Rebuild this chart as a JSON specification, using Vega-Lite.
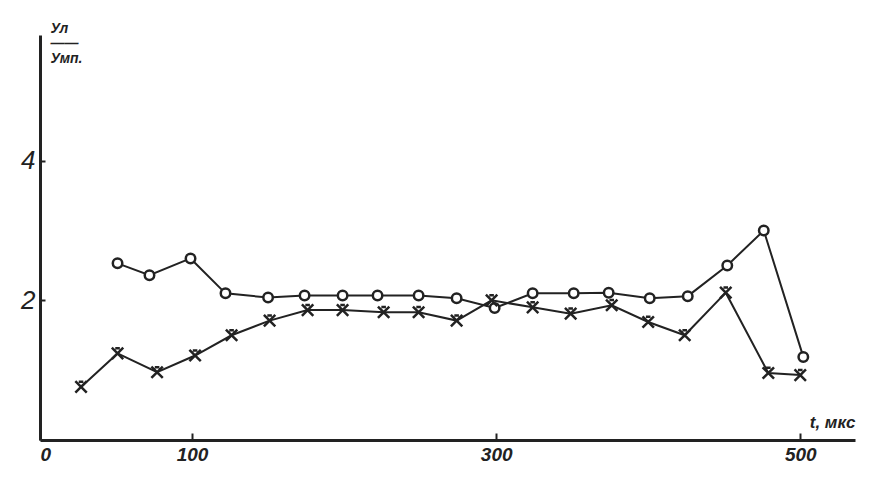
{
  "$schema": "https://vega.github.io/schema/vega-lite/v6.json",
  "width": 815,
  "height": 405,
  "autosize": {"type": "none"},
  "padding": {"left": 40, "top": 35, "right": 26, "bottom": 38},
  "background": "white",
  "config": {
    "view": {"stroke": null},
    "font": "Liberation Sans",
    "axis": {"grid": false, "domainColor": "#222", "tickColor": "#222", "labelColor": "#222", "titleColor": "#222", "labelFontStyle": "italic", "titleFontStyle": "italic"}
  },
  "data": {
    "values": [
      {"s": "o", "t": 51, "v": 2.53},
      {"s": "o", "t": 72, "v": 2.36},
      {"s": "o", "t": 99, "v": 2.6},
      {"s": "o", "t": 122, "v": 2.1},
      {"s": "o", "t": 150, "v": 2.04},
      {"s": "o", "t": 174, "v": 2.07},
      {"s": "o", "t": 199, "v": 2.07},
      {"s": "o", "t": 222, "v": 2.07},
      {"s": "o", "t": 249, "v": 2.07},
      {"s": "o", "t": 274, "v": 2.03},
      {"s": "o", "t": 299, "v": 1.89},
      {"s": "o", "t": 324, "v": 2.1},
      {"s": "o", "t": 351, "v": 2.1},
      {"s": "o", "t": 374, "v": 2.11},
      {"s": "o", "t": 401, "v": 2.03},
      {"s": "o", "t": 426, "v": 2.06},
      {"s": "o", "t": 452, "v": 2.5},
      {"s": "o", "t": 476, "v": 3.0},
      {"s": "o", "t": 502, "v": 1.19},
      {"s": "x", "t": 27, "v": 0.76},
      {"s": "x", "t": 51, "v": 1.24},
      {"s": "x", "t": 77, "v": 0.97},
      {"s": "x", "t": 102, "v": 1.21},
      {"s": "x", "t": 126, "v": 1.5},
      {"s": "x", "t": 151, "v": 1.71},
      {"s": "x", "t": 176, "v": 1.86},
      {"s": "x", "t": 199, "v": 1.86},
      {"s": "x", "t": 226, "v": 1.83},
      {"s": "x", "t": 249, "v": 1.83},
      {"s": "x", "t": 274, "v": 1.71},
      {"s": "x", "t": 297, "v": 2.0},
      {"s": "x", "t": 324, "v": 1.9},
      {"s": "x", "t": 349, "v": 1.81},
      {"s": "x", "t": 376, "v": 1.93},
      {"s": "x", "t": 400, "v": 1.69},
      {"s": "x", "t": 424, "v": 1.5},
      {"s": "x", "t": 451, "v": 2.11},
      {"s": "x", "t": 479, "v": 0.96},
      {"s": "x", "t": 500, "v": 0.93}
    ]
  },
  "encoding": {
    "x": {
      "field": "t", "type": "quantitative",
      "scale": {"domain": [0, 536], "nice": false, "zero": true},
      "axis": {
        "values": [0, 100, 300, 500], "domainWidth": 3, "tickSize": -7, "tickWidth": 2,
        "labelFontSize": 19, "labelPadding": 12, "labelFontWeight": "bold",
        "title": "t, мкс", "titleFontSize": 17, "titleFontWeight": "bold",
        "titleAnchor": "end", "titleX": 815, "titleY": -26, "titleAlign": "right"
      }
    },
    "y": {
      "field": "v", "type": "quantitative",
      "scale": {"domain": [0, 5.8], "nice": false},
      "axis": {
        "values": [2, 4], "domainWidth": 3, "tickSize": -5, "tickWidth": 2,
        "labelFontSize": 26, "labelPadding": 10,
        "title": ["Ул", "——", "Умп."], "titleAngle": 0, "titleFontSize": 14, "titleFontWeight": "bold",
        "titleLineHeight": 15, "titleX": 10, "titleY": -14, "titleAlign": "left", "titleBaseline": "top"
      }
    }
  },
  "layer": [
    {
      "mark": {"type": "line", "color": "#222", "strokeWidth": 2},
      "encoding": {"detail": {"field": "s"}}
    },
    {
      "mark": {"type": "point", "filled": false, "strokeWidth": 2.5, "color": "#222", "opacity": 1},
      "encoding": {
        "shape": {
          "field": "s", "type": "nominal",
          "scale": {"domain": ["o", "x"], "range": ["circle", "M-1,-1L1,1M-1,1L1,-1M-0.4,-0.9L0.4,-0.9"]},
          "legend": null
        },
        "size": {"field": "s", "type": "nominal", "scale": {"domain": ["o", "x"], "range": [90, 130]}, "legend": null},
        "fill": {"value": "white"}
      }
    }
  ]
}
